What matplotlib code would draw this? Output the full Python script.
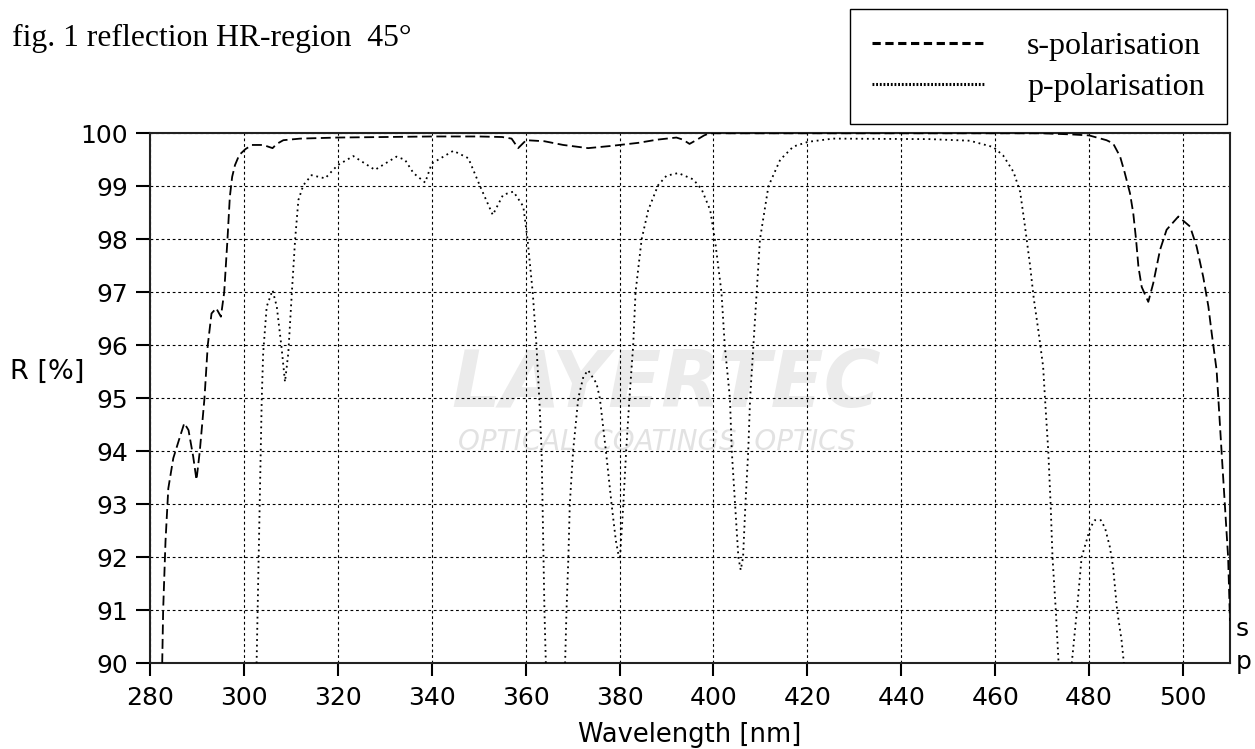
import matplotlib
matplotlib.use("Agg")
import matplotlib.pyplot as plt
import numpy as np
from matplotlib.lines import Line2D

# s-polarisation (dashed)
s_wl = [282.6, 282.8, 283.3, 283.9, 284.96, 286.4, 287.3, 288.2, 289.2, 289.9, 290.6,
        291.6, 292.3, 293.1, 294.1, 295.1, 295.8, 296.5, 297.0, 297.5, 298.1, 299.0,
        300.3, 301.7, 304.1, 306.1, 307.0, 308.4, 312.0, 320.0, 330.0, 340.0, 350.0,
        355.0, 357.0, 358.4, 360.1, 364.0, 368.0, 373.3, 378.0, 384.0, 388.0, 392.1,
        393.5, 394.9, 396.5, 398.0, 399.1, 400.0, 420.0, 440.0, 460.0, 470.0, 476.0,
        480.0, 483.7, 485.1, 486.6, 487.6, 488.7, 489.4, 490.0, 490.5, 491.2, 492.6,
        493.65, 495.1, 496.5, 499.0, 501.5, 502.9, 504.3, 505.4, 506.1, 507.15, 508.2,
        508.9, 509.6, 510.0]
s_R = [90.0, 91.0, 92.3, 93.3, 93.87, 94.28, 94.53, 94.4, 93.9, 93.46, 94.0,
       95.0, 96.0, 96.6, 96.7, 96.54, 97.0, 98.0, 98.8, 99.18, 99.4, 99.59,
       99.7, 99.78, 99.78, 99.72, 99.8, 99.87, 99.9, 99.92, 99.93, 99.94, 99.94,
       99.93, 99.9, 99.72, 99.87, 99.85, 99.78, 99.72, 99.76, 99.82, 99.88, 99.92,
       99.88, 99.8, 99.88, 99.96, 100.0, 100.0, 100.0, 100.0, 100.0, 100.0, 99.98,
       99.96, 99.87, 99.81, 99.56, 99.25, 98.87, 98.49, 97.99, 97.48, 97.1, 96.82,
       97.17, 97.8, 98.18, 98.43, 98.24, 97.86, 97.29, 96.73, 96.23, 95.53, 94.0,
       93.0, 92.0, 90.8]

# p-polarisation (dotted); NaN where the curve leaves the 90-100 window
p_wl = [302.7, 303.8, 304.1, 304.85, 306.1, 307.0, 308.0, 308.75, 309.45, 310.2,
        310.9, 311.6, 312.65, 314.4, 317.3, 319.0, 320.0, 323.3, 327.9, 332.5,
        334.3, 336.1, 338.6, 340.0, 344.6, 347.8, 350.3, 353.0, 355.2, 357.4,
        359.5, 360.4, 361.5, 362.3, 362.9, 363.4, 363.6, 364.0, 364.3,
        366.0,
        368.4, 368.7, 369.1, 369.4, 370.1, 371.2, 372.3, 373.3, 375.1, 375.8,
        377.1, 378.3, 379.2, 379.7, 380.1, 380.8, 381.4, 382.1, 382.9, 383.4,
        384.7, 386.1, 388.2, 390.0, 392.5, 395.7, 397.5, 399.3, 400.3, 401.7,
        402.4, 403.5, 403.9, 404.6, 405.3, 405.8, 406.3, 406.8, 407.4, 407.8,
        408.5, 409.2, 409.9, 411.7, 414.2, 417.0, 420.2, 425.5, 446.1, 454.6,
        459.6, 461.7, 463.9, 465.3, 466.3, 467.4, 468.2, 469.2, 470.2, 470.6,
        471.3, 471.8, 472.2, 472.9, 473.5,
        475.0,
        476.3, 477.4, 478.4, 479.5, 480.2, 481.2, 482.5, 483.4, 484.4, 485.1,
        485.96, 486.9, 487.4]
p_R = [90.0, 95.0, 95.85, 96.73, 97.04, 96.73, 95.97, 95.31, 95.85, 96.98,
       97.99, 98.74, 99.02, 99.21, 99.15, 99.31, 99.4, 99.57, 99.31, 99.56,
       99.5, 99.25, 99.07, 99.43, 99.67, 99.53, 99.0, 98.46, 98.84, 98.9,
       98.62, 98.0, 97.0, 96.0, 95.0, 94.0, 93.0, 91.0, 90.0,
       np.nan,
       90.0, 91.0, 92.0, 93.0, 94.0, 95.0, 95.41, 95.53, 95.28, 95.0,
       94.0, 93.0, 92.32, 92.08, 92.0, 93.0, 94.0, 95.0, 96.0, 97.0,
       98.0, 98.55, 99.02, 99.2, 99.25, 99.13, 98.94, 98.55, 98.0, 97.0,
       96.0, 95.0, 94.0, 93.0, 92.0, 91.76, 92.0, 93.0, 94.0, 95.0,
       96.0, 97.0, 98.0, 99.0, 99.5, 99.75, 99.84, 99.9, 99.89, 99.86,
       99.74, 99.58, 99.27, 98.9, 98.27, 97.52, 96.89, 96.27, 95.6, 95.0,
       94.0, 93.0, 92.0, 91.0, 90.0,
       np.nan,
       90.0, 91.0, 92.0, 92.33, 92.55, 92.7, 92.7, 92.55, 92.2, 91.82,
       91.0, 90.44, 90.0]

x_ticks = list(range(280, 501, 20))
y_ticks = list(range(90, 101))

W, H = 1255, 749
fig = plt.figure(figsize=(W / 100, H / 100), dpi=100)
ax = fig.add_axes([150 / W, 1 - 663.3 / H, 1080 / W, 530 / H])

sans = "DejaVu Sans"
serif = "Liberation Serif"

# faint watermark behind the curves
ax.text(390, 94.84, "LAYERTEC", fontsize=56, fontweight="heavy", fontstyle="italic",
        color="#ebebeb", ha="center", va="baseline", family=sans, zorder=0.1)
ax.text(388, 94.17, "OPTICAL  COATINGS  OPTICS", fontsize=20, fontweight="light",
        fontstyle="italic", color="#e2e2e2", ha="center", va="center", family=sans,
        zorder=0.1)

ax.plot(s_wl, s_R, color="black", linewidth=1.3, dashes=(5.5, 2.5), zorder=3)
ax.plot(p_wl, p_R, color="black", linewidth=1.3, dashes=(1.0, 2.1), zorder=3)

ax.set_xlim(280, 510)
ax.set_ylim(90, 100)
ax.set_xticks(x_ticks)
ax.set_yticks(y_ticks)
ax.grid(True, color="black", linestyle=(0, (2.5, 2.5)), linewidth=0.8)
for sp in ax.spines.values():
    sp.set_linewidth(1.5)
    sp.set_color("#222222")
ax.tick_params(axis="y", direction="out", length=10, width=1.5, labelsize=18, pad=6)
ax.tick_params(axis="x", direction="out", length=9, width=1.5, labelsize=18, pad=7)
for lab in ax.get_xticklabels() + ax.get_yticklabels():
    lab.set_family(sans)

ax.set_ylabel("R [%]", rotation=0, ha="left", va="center", fontsize=19.5, family=sans)
ax.yaxis.set_label_coords(-0.1296, 0.55)
ax.set_xlabel("Wavelength [nm]", fontsize=18.5, family=sans, va="center")
ax.xaxis.set_label_coords(0.5, -0.136)

# cut-off labels at the right edge
fig.text(1236 / W, 1 - 636 / H, "s", fontsize=18, family=sans, va="baseline")
fig.text(1236 / W, 1 - 669 / H, "p", fontsize=18, family=sans, va="baseline")

fig.text(12 / W, 1 - 46 / H, "fig. 1 reflection HR-region  45°", fontsize=22.8,
         family=serif, va="baseline")

handles = [
    Line2D([], [], color="black", linewidth=2.2, dashes=(2.7, 1.5)),
    Line2D([], [], color="black", linewidth=2.2, dashes=(0.6, 0.6)),
]
leg = fig.legend(handles, ["s-polarisation", "p-polarisation"], loc="upper right",
                 bbox_to_anchor=(1227 / W, 1 - 9 / H), bbox_transform=fig.transFigure,
                 prop={"family": serif, "size": 23}, frameon=True, fancybox=False,
                 edgecolor="black", framealpha=1, borderaxespad=0, handlelength=3.5,
                 handletextpad=1.35, borderpad=0.7, labelspacing=0.37)
leg.get_frame().set_linewidth(1.0)

fig.savefig("out.png", dpi=100)
